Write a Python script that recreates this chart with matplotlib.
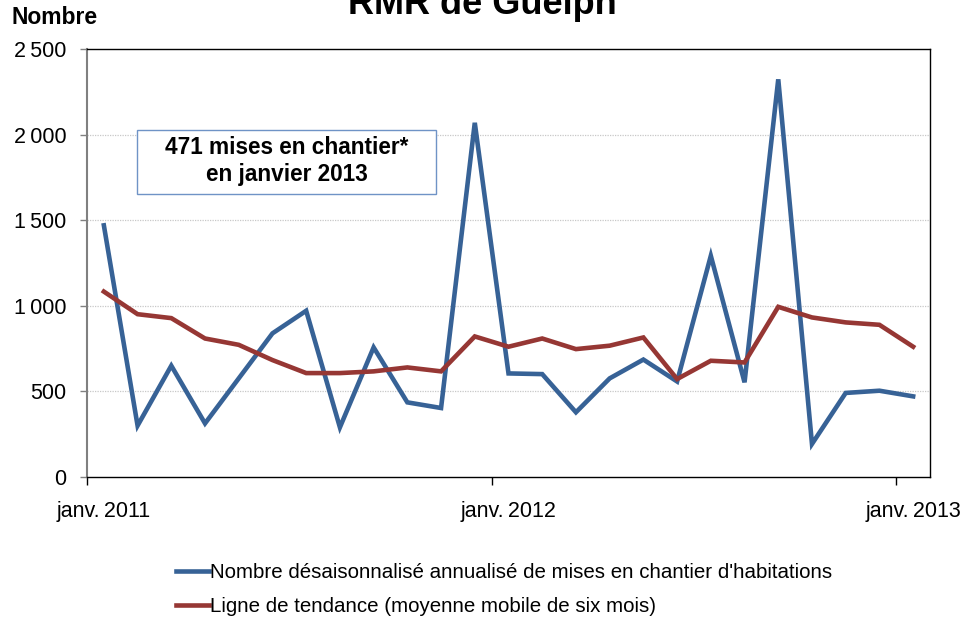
import matplotlib
matplotlib.use("Agg")
import matplotlib.pyplot as plt
from matplotlib.patches import Rectangle
import numpy as np

plt.rcParams["font.family"] = ["Liberation Sans", "DejaVu Sans"]

# monthly data, janv. 2011 -> janv. 2013
starts = [1470, 300, 650, 313, 576, 839, 971, 290, 757, 436, 403, 2069, 605,
          601, 378, 576, 686, 558, 1292, 553, 2323, 193, 491, 504, 471]
trend = [1083, 951, 928, 809, 772, 683, 607, 607, 617, 640, 617, 821, 761,
         809, 747, 767, 815, 572, 679, 669, 994, 932, 903, 889, 761]
year_labels = ["janv.\u20092011", "janv.\u20092012", "janv.\u20092013"]
y_ticks = [0, 500, 1000, 1500, 2000, 2500]
y_labels = ["0", "500", "1\u2009000", "1\u2009500", "2\u2009000", "2\u2009500"]

BLUE = "#376296"
RED = "#963734"

fig = plt.figure(figsize=(9.7, 6.29), dpi=100)
ax = fig.add_axes([87 / 970, 1 - 477 / 629, (930 - 87) / 970, (477 - 49) / 629])

x = np.arange(len(starts))
ax.plot(x, starts, color=BLUE, lw=3.3, solid_joinstyle="miter",
        label="Nombre désaisonnalisé annualisé de mises en chantier d'habitations", zorder=3)
ax.plot(x, trend, color=RED, lw=3.3, solid_joinstyle="miter",
        label="Ligne de tendance (moyenne mobile de six mois)", zorder=4)

ax.set_xlim(-0.5, len(starts) - 0.5)
ax.set_ylim(0, 2500)

# year boundaries get the tick marks, labels sit under the january point
ax.set_xticks([-0.5, 11.5, 23.5])
ax.set_xticklabels([])
ax.set_xticks([0, 12, 24], minor=True)
ax.set_xticklabels(year_labels, minor=True)
ax.tick_params(axis="x", which="major", length=6, width=1, color="black", direction="out")
ax.tick_params(axis="x", which="minor", length=0, pad=17, labelsize=15.5)

ax.set_yticks(y_ticks)
ax.set_yticklabels(y_labels)
ax.tick_params(axis="y", length=5, width=1, color="#808080", pad=10, labelsize=15.5)

for v in y_ticks[1:-1]:
    ax.axhline(v, color="#c8c8c8", lw=0.9, ls=(0, (1, 1)), zorder=1)

for side in ["top", "right", "bottom"]:
    ax.spines[side].set_color("black")
    ax.spines[side].set_linewidth(1.0)
ax.spines["left"].set_color("#808080")
ax.spines["left"].set_linewidth(1.5)

fig.text(482 / 970, 1 - 14 / 629, "RMR de Guelph", ha="center", va="baseline",
         fontsize=26, fontweight="bold")
fig.text(12 / 970, 1 - 24 / 629, "Nombre", ha="left", va="baseline",
         fontsize=16.5, fontweight="bold")

# note box
box = Rectangle((137 / 970, 1 - 194 / 629), (436 - 137) / 970, (194 - 130) / 629,
                transform=fig.transFigure, facecolor="white", edgecolor="#6f93c6", lw=1.0,
                zorder=5)
fig.patches.append(box)
fig.text(286.5 / 970, 1 - 161 / 629, "471 mises en chantier*\nen janvier 2013",
         ha="center", va="center", fontsize=16.3, fontweight="bold", linespacing=1.18,
         zorder=6)

fig.legend(loc="upper left", bbox_to_anchor=(176 / 970, 1 - 563 / 629), frameon=False,
           fontsize=14.8, handlelength=1.6, handletextpad=0.05, labelspacing=0.72,
           borderpad=0, borderaxespad=0)

fig.savefig("out.png", dpi=100)
